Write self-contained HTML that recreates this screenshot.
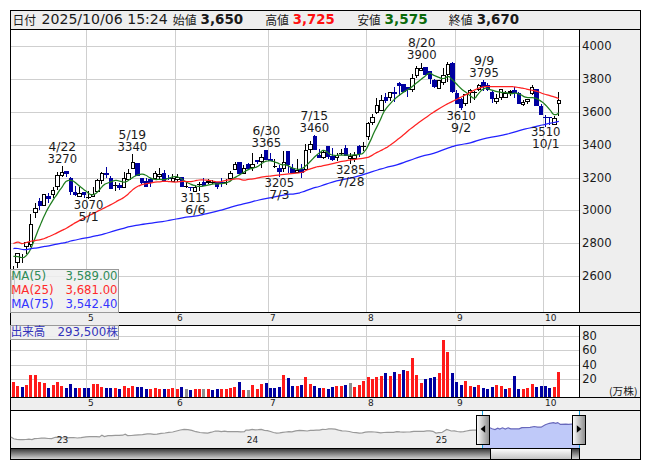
<!DOCTYPE html>
<html lang="ja"><head><meta charset="utf-8"><title>chart</title>
<style>
html,body{margin:0;padding:0;background:#fff;}
svg{display:block;}
text{font-family:"DejaVu Sans","Liberation Sans","Noto Sans CJK JP",sans-serif;fill:#1a1a1a;}
.j{font-family:"Noto Sans CJK JP","DejaVu Sans",sans-serif;}
.b{font-weight:bold;}
.g{stroke:#cfcfcf;stroke-width:1;shape-rendering:crispEdges;}
.k{stroke:#000;stroke-width:1;shape-rendering:crispEdges;}
</style></head><body>
<svg width="653" height="470" viewBox="0 0 653 470">
<rect x="0" y="0" width="653" height="470" fill="#fff"/>
<rect x="10" y="10" width="631" height="450" fill="#eee"/>
<rect x="11" y="30" width="568" height="282" fill="#fff"/>
<rect x="11" y="326" width="568" height="71" fill="#fff"/>
<rect x="11" y="411" width="568" height="37" fill="#fff"/>
<line class="g" x1="11" x2="579" y1="46.5" y2="46.5"/>
<line class="g" x1="11" x2="579" y1="79.5" y2="79.5"/>
<line class="g" x1="11" x2="579" y1="112.5" y2="112.5"/>
<line class="g" x1="11" x2="579" y1="145.5" y2="145.5"/>
<line class="g" x1="11" x2="579" y1="178.5" y2="178.5"/>
<line class="g" x1="11" x2="579" y1="210.5" y2="210.5"/>
<line class="g" x1="11" x2="579" y1="243.5" y2="243.5"/>
<line class="g" x1="11" x2="579" y1="276.5" y2="276.5"/>
<line class="g" x1="86.5" x2="86.5" y1="30" y2="312"/>
<line class="g" x1="86.5" x2="86.5" y1="326" y2="397"/>
<line class="g" x1="175.5" x2="175.5" y1="30" y2="312"/>
<line class="g" x1="175.5" x2="175.5" y1="326" y2="397"/>
<line class="g" x1="268.5" x2="268.5" y1="30" y2="312"/>
<line class="g" x1="268.5" x2="268.5" y1="326" y2="397"/>
<line class="g" x1="366.5" x2="366.5" y1="30" y2="312"/>
<line class="g" x1="366.5" x2="366.5" y1="326" y2="397"/>
<line class="g" x1="455.5" x2="455.5" y1="30" y2="312"/>
<line class="g" x1="455.5" x2="455.5" y1="326" y2="397"/>
<line class="g" x1="543.5" x2="543.5" y1="30" y2="312"/>
<line class="g" x1="543.5" x2="543.5" y1="326" y2="397"/>
<line class="g" x1="11" x2="579" y1="336.5" y2="336.5"/>
<line class="g" x1="11" x2="579" y1="350.5" y2="350.5"/>
<line class="g" x1="11" x2="579" y1="365.5" y2="365.5"/>
<line class="g" x1="11" x2="579" y1="379.5" y2="379.5"/>
<rect x="12" y="382" width="3" height="15" fill="#ff1a1a" shape-rendering="crispEdges"/>
<rect x="16" y="386" width="3" height="11" fill="#ff1a1a" shape-rendering="crispEdges"/>
<rect x="21" y="387" width="3" height="10" fill="#0000a0" shape-rendering="crispEdges"/>
<rect x="25" y="385" width="3" height="12" fill="#ff1a1a" shape-rendering="crispEdges"/>
<rect x="29" y="375" width="3" height="22" fill="#ff1a1a" shape-rendering="crispEdges"/>
<rect x="34" y="375" width="3" height="22" fill="#ff1a1a" shape-rendering="crispEdges"/>
<rect x="38" y="382" width="3" height="15" fill="#ff1a1a" shape-rendering="crispEdges"/>
<rect x="43" y="383" width="3" height="14" fill="#ff1a1a" shape-rendering="crispEdges"/>
<rect x="47" y="388" width="3" height="9" fill="#0000a0" shape-rendering="crispEdges"/>
<rect x="52" y="385" width="3" height="12" fill="#ff1a1a" shape-rendering="crispEdges"/>
<rect x="56" y="382" width="3" height="15" fill="#ff1a1a" shape-rendering="crispEdges"/>
<rect x="60" y="386" width="3" height="11" fill="#ff1a1a" shape-rendering="crispEdges"/>
<rect x="65" y="388" width="3" height="9" fill="#0000a0" shape-rendering="crispEdges"/>
<rect x="69" y="384" width="3" height="13" fill="#0000a0" shape-rendering="crispEdges"/>
<rect x="74" y="388" width="3" height="9" fill="#0000a0" shape-rendering="crispEdges"/>
<rect x="78" y="388" width="3" height="9" fill="#ff1a1a" shape-rendering="crispEdges"/>
<rect x="83" y="388" width="3" height="9" fill="#0000a0" shape-rendering="crispEdges"/>
<rect x="87" y="388" width="3" height="9" fill="#0000a0" shape-rendering="crispEdges"/>
<rect x="92" y="384" width="3" height="13" fill="#ff1a1a" shape-rendering="crispEdges"/>
<rect x="96" y="384" width="3" height="13" fill="#ff1a1a" shape-rendering="crispEdges"/>
<rect x="100" y="387" width="3" height="10" fill="#ff1a1a" shape-rendering="crispEdges"/>
<rect x="105" y="388" width="3" height="9" fill="#0000a0" shape-rendering="crispEdges"/>
<rect x="109" y="388" width="3" height="9" fill="#0000a0" shape-rendering="crispEdges"/>
<rect x="114" y="388" width="3" height="9" fill="#ff1a1a" shape-rendering="crispEdges"/>
<rect x="118" y="389" width="3" height="8" fill="#0000a0" shape-rendering="crispEdges"/>
<rect x="123" y="386" width="3" height="11" fill="#ff1a1a" shape-rendering="crispEdges"/>
<rect x="127" y="388" width="3" height="9" fill="#ff1a1a" shape-rendering="crispEdges"/>
<rect x="131" y="386" width="3" height="11" fill="#ff1a1a" shape-rendering="crispEdges"/>
<rect x="136" y="387" width="3" height="10" fill="#0000a0" shape-rendering="crispEdges"/>
<rect x="140" y="387" width="3" height="10" fill="#0000a0" shape-rendering="crispEdges"/>
<rect x="145" y="389" width="3" height="8" fill="#0000a0" shape-rendering="crispEdges"/>
<rect x="149" y="389" width="3" height="8" fill="#ff1a1a" shape-rendering="crispEdges"/>
<rect x="154" y="388" width="3" height="9" fill="#ff1a1a" shape-rendering="crispEdges"/>
<rect x="158" y="389" width="3" height="8" fill="#ff1a1a" shape-rendering="crispEdges"/>
<rect x="163" y="389" width="3" height="8" fill="#0000a0" shape-rendering="crispEdges"/>
<rect x="167" y="389" width="3" height="8" fill="#ff1a1a" shape-rendering="crispEdges"/>
<rect x="171" y="388" width="3" height="9" fill="#ff1a1a" shape-rendering="crispEdges"/>
<rect x="176" y="389" width="3" height="8" fill="#ff1a1a" shape-rendering="crispEdges"/>
<rect x="180" y="387" width="3" height="10" fill="#0000a0" shape-rendering="crispEdges"/>
<rect x="185" y="389" width="3" height="8" fill="#909090" shape-rendering="crispEdges"/>
<rect x="189" y="390" width="3" height="7" fill="#0000a0" shape-rendering="crispEdges"/>
<rect x="194" y="389" width="3" height="8" fill="#ff1a1a" shape-rendering="crispEdges"/>
<rect x="198" y="389" width="3" height="8" fill="#ff1a1a" shape-rendering="crispEdges"/>
<rect x="202" y="389" width="3" height="8" fill="#909090" shape-rendering="crispEdges"/>
<rect x="207" y="389" width="3" height="8" fill="#ff1a1a" shape-rendering="crispEdges"/>
<rect x="211" y="390" width="3" height="7" fill="#0000a0" shape-rendering="crispEdges"/>
<rect x="216" y="389" width="3" height="8" fill="#0000a0" shape-rendering="crispEdges"/>
<rect x="220" y="389" width="3" height="8" fill="#ff1a1a" shape-rendering="crispEdges"/>
<rect x="225" y="389" width="3" height="8" fill="#ff1a1a" shape-rendering="crispEdges"/>
<rect x="229" y="388" width="3" height="9" fill="#ff1a1a" shape-rendering="crispEdges"/>
<rect x="233" y="387" width="3" height="10" fill="#ff1a1a" shape-rendering="crispEdges"/>
<rect x="238" y="382" width="3" height="15" fill="#0000a0" shape-rendering="crispEdges"/>
<rect x="242" y="390" width="3" height="7" fill="#ff1a1a" shape-rendering="crispEdges"/>
<rect x="247" y="390" width="3" height="7" fill="#909090" shape-rendering="crispEdges"/>
<rect x="251" y="385" width="3" height="12" fill="#ff1a1a" shape-rendering="crispEdges"/>
<rect x="256" y="389" width="3" height="8" fill="#ff1a1a" shape-rendering="crispEdges"/>
<rect x="260" y="384" width="3" height="13" fill="#ff1a1a" shape-rendering="crispEdges"/>
<rect x="265" y="383" width="3" height="14" fill="#0000a0" shape-rendering="crispEdges"/>
<rect x="269" y="388" width="3" height="9" fill="#0000a0" shape-rendering="crispEdges"/>
<rect x="273" y="388" width="3" height="9" fill="#0000a0" shape-rendering="crispEdges"/>
<rect x="278" y="387" width="3" height="10" fill="#0000a0" shape-rendering="crispEdges"/>
<rect x="282" y="375" width="3" height="22" fill="#ff1a1a" shape-rendering="crispEdges"/>
<rect x="287" y="378" width="3" height="19" fill="#0000a0" shape-rendering="crispEdges"/>
<rect x="291" y="386" width="3" height="11" fill="#0000a0" shape-rendering="crispEdges"/>
<rect x="296" y="386" width="3" height="11" fill="#ff1a1a" shape-rendering="crispEdges"/>
<rect x="300" y="385" width="3" height="12" fill="#0000a0" shape-rendering="crispEdges"/>
<rect x="304" y="377" width="3" height="20" fill="#ff1a1a" shape-rendering="crispEdges"/>
<rect x="309" y="384" width="3" height="13" fill="#ff1a1a" shape-rendering="crispEdges"/>
<rect x="313" y="386" width="3" height="11" fill="#0000a0" shape-rendering="crispEdges"/>
<rect x="318" y="388" width="3" height="9" fill="#0000a0" shape-rendering="crispEdges"/>
<rect x="322" y="388" width="3" height="9" fill="#ff1a1a" shape-rendering="crispEdges"/>
<rect x="327" y="389" width="3" height="8" fill="#0000a0" shape-rendering="crispEdges"/>
<rect x="331" y="387" width="3" height="10" fill="#0000a0" shape-rendering="crispEdges"/>
<rect x="335" y="386" width="3" height="11" fill="#ff1a1a" shape-rendering="crispEdges"/>
<rect x="340" y="386" width="3" height="11" fill="#ff1a1a" shape-rendering="crispEdges"/>
<rect x="344" y="385" width="3" height="12" fill="#0000a0" shape-rendering="crispEdges"/>
<rect x="349" y="383" width="3" height="14" fill="#909090" shape-rendering="crispEdges"/>
<rect x="353" y="387" width="3" height="10" fill="#ff1a1a" shape-rendering="crispEdges"/>
<rect x="358" y="385" width="3" height="12" fill="#ff1a1a" shape-rendering="crispEdges"/>
<rect x="362" y="381" width="3" height="16" fill="#ff1a1a" shape-rendering="crispEdges"/>
<rect x="367" y="377" width="3" height="20" fill="#ff1a1a" shape-rendering="crispEdges"/>
<rect x="371" y="379" width="3" height="18" fill="#ff1a1a" shape-rendering="crispEdges"/>
<rect x="375" y="377" width="3" height="20" fill="#ff1a1a" shape-rendering="crispEdges"/>
<rect x="380" y="376" width="3" height="21" fill="#ff1a1a" shape-rendering="crispEdges"/>
<rect x="384" y="373" width="3" height="24" fill="#0000a0" shape-rendering="crispEdges"/>
<rect x="389" y="376" width="3" height="21" fill="#ff1a1a" shape-rendering="crispEdges"/>
<rect x="393" y="372" width="3" height="25" fill="#0000a0" shape-rendering="crispEdges"/>
<rect x="398" y="374" width="3" height="23" fill="#ff1a1a" shape-rendering="crispEdges"/>
<rect x="402" y="370" width="3" height="27" fill="#0000a0" shape-rendering="crispEdges"/>
<rect x="406" y="371" width="3" height="26" fill="#ff1a1a" shape-rendering="crispEdges"/>
<rect x="411" y="358" width="3" height="39" fill="#ff1a1a" shape-rendering="crispEdges"/>
<rect x="415" y="375" width="3" height="22" fill="#ff1a1a" shape-rendering="crispEdges"/>
<rect x="420" y="383" width="3" height="14" fill="#ff1a1a" shape-rendering="crispEdges"/>
<rect x="424" y="379" width="3" height="18" fill="#0000a0" shape-rendering="crispEdges"/>
<rect x="429" y="378" width="3" height="19" fill="#0000a0" shape-rendering="crispEdges"/>
<rect x="433" y="377" width="3" height="20" fill="#0000a0" shape-rendering="crispEdges"/>
<rect x="438" y="373" width="3" height="24" fill="#ff1a1a" shape-rendering="crispEdges"/>
<rect x="442" y="340" width="3" height="57" fill="#ff1a1a" shape-rendering="crispEdges"/>
<rect x="446" y="352" width="3" height="45" fill="#ff1a1a" shape-rendering="crispEdges"/>
<rect x="451" y="373" width="3" height="24" fill="#0000a0" shape-rendering="crispEdges"/>
<rect x="455" y="382" width="3" height="15" fill="#0000a0" shape-rendering="crispEdges"/>
<rect x="460" y="385" width="3" height="12" fill="#0000a0" shape-rendering="crispEdges"/>
<rect x="464" y="381" width="3" height="16" fill="#ff1a1a" shape-rendering="crispEdges"/>
<rect x="469" y="386" width="3" height="11" fill="#ff1a1a" shape-rendering="crispEdges"/>
<rect x="473" y="387" width="3" height="10" fill="#0000a0" shape-rendering="crispEdges"/>
<rect x="477" y="385" width="3" height="12" fill="#ff1a1a" shape-rendering="crispEdges"/>
<rect x="482" y="388" width="3" height="9" fill="#0000a0" shape-rendering="crispEdges"/>
<rect x="486" y="389" width="3" height="8" fill="#0000a0" shape-rendering="crispEdges"/>
<rect x="491" y="387" width="3" height="10" fill="#0000a0" shape-rendering="crispEdges"/>
<rect x="495" y="385" width="3" height="12" fill="#ff1a1a" shape-rendering="crispEdges"/>
<rect x="500" y="386" width="3" height="11" fill="#ff1a1a" shape-rendering="crispEdges"/>
<rect x="504" y="389" width="3" height="8" fill="#0000a0" shape-rendering="crispEdges"/>
<rect x="508" y="388" width="3" height="9" fill="#ff1a1a" shape-rendering="crispEdges"/>
<rect x="513" y="376" width="3" height="21" fill="#0000a0" shape-rendering="crispEdges"/>
<rect x="517" y="389" width="3" height="8" fill="#0000a0" shape-rendering="crispEdges"/>
<rect x="522" y="389" width="3" height="8" fill="#ff1a1a" shape-rendering="crispEdges"/>
<rect x="526" y="388" width="3" height="9" fill="#ff1a1a" shape-rendering="crispEdges"/>
<rect x="531" y="384" width="3" height="13" fill="#ff1a1a" shape-rendering="crispEdges"/>
<rect x="535" y="387" width="3" height="10" fill="#0000a0" shape-rendering="crispEdges"/>
<rect x="540" y="386" width="3" height="11" fill="#0000a0" shape-rendering="crispEdges"/>
<rect x="544" y="386" width="3" height="11" fill="#0000a0" shape-rendering="crispEdges"/>
<rect x="548" y="388" width="3" height="9" fill="#0000a0" shape-rendering="crispEdges"/>
<rect x="553" y="387" width="3" height="10" fill="#ff1a1a" shape-rendering="crispEdges"/>
<rect x="557" y="372" width="3" height="25" fill="#ff1a1a" shape-rendering="crispEdges"/>
<rect x="13" y="266" width="1" height="35" fill="#000" shape-rendering="crispEdges"/>
<rect x="11" y="276" width="4" height="18" fill="#000" shape-rendering="crispEdges"/>
<rect x="12" y="277" width="2" height="16" fill="#fff" shape-rendering="crispEdges"/>
<rect x="17" y="253" width="1" height="15" fill="#000" shape-rendering="crispEdges"/>
<rect x="15" y="253" width="5" height="10" fill="#000" shape-rendering="crispEdges"/>
<rect x="16" y="254" width="3" height="8" fill="#fff" shape-rendering="crispEdges"/>
<rect x="22" y="254" width="1" height="9" fill="#000" shape-rendering="crispEdges"/>
<rect x="20" y="257" width="4" height="1" fill="#000" shape-rendering="crispEdges"/>
<rect x="26" y="242" width="1" height="12" fill="#000" shape-rendering="crispEdges"/>
<rect x="24" y="242" width="5" height="5" fill="#000" shape-rendering="crispEdges"/>
<rect x="25" y="243" width="3" height="3" fill="#fff" shape-rendering="crispEdges"/>
<rect x="30" y="214" width="1" height="33" fill="#000" shape-rendering="crispEdges"/>
<rect x="29" y="224" width="4" height="21" fill="#000" shape-rendering="crispEdges"/>
<rect x="30" y="225" width="2" height="19" fill="#fff" shape-rendering="crispEdges"/>
<rect x="35" y="203" width="1" height="15" fill="#000" shape-rendering="crispEdges"/>
<rect x="33" y="208" width="5" height="5" fill="#000" shape-rendering="crispEdges"/>
<rect x="34" y="209" width="3" height="3" fill="#fff" shape-rendering="crispEdges"/>
<rect x="39" y="198" width="1" height="12" fill="#0000a0" shape-rendering="crispEdges"/>
<rect x="38" y="201" width="4" height="5" fill="#0000a0" shape-rendering="crispEdges"/>
<rect x="44" y="194" width="1" height="12" fill="#000" shape-rendering="crispEdges"/>
<rect x="42" y="194" width="4" height="12" fill="#000" shape-rendering="crispEdges"/>
<rect x="43" y="195" width="2" height="10" fill="#fff" shape-rendering="crispEdges"/>
<rect x="48" y="193" width="1" height="10" fill="#0000a0" shape-rendering="crispEdges"/>
<rect x="46" y="196" width="5" height="3" fill="#0000a0" shape-rendering="crispEdges"/>
<rect x="53" y="187" width="1" height="11" fill="#000" shape-rendering="crispEdges"/>
<rect x="51" y="190" width="4" height="5" fill="#000" shape-rendering="crispEdges"/>
<rect x="52" y="191" width="2" height="3" fill="#fff" shape-rendering="crispEdges"/>
<rect x="57" y="172" width="1" height="18" fill="#000" shape-rendering="crispEdges"/>
<rect x="55" y="175" width="5" height="12" fill="#000" shape-rendering="crispEdges"/>
<rect x="56" y="176" width="3" height="10" fill="#fff" shape-rendering="crispEdges"/>
<rect x="62" y="166" width="1" height="11" fill="#000" shape-rendering="crispEdges"/>
<rect x="60" y="172" width="4" height="4" fill="#000" shape-rendering="crispEdges"/>
<rect x="61" y="173" width="2" height="2" fill="#fff" shape-rendering="crispEdges"/>
<rect x="66" y="171" width="1" height="6" fill="#0000a0" shape-rendering="crispEdges"/>
<rect x="64" y="171" width="5" height="3" fill="#0000a0" shape-rendering="crispEdges"/>
<rect x="70" y="177" width="1" height="18" fill="#0000a0" shape-rendering="crispEdges"/>
<rect x="69" y="178" width="4" height="14" fill="#0000a0" shape-rendering="crispEdges"/>
<rect x="75" y="186" width="1" height="10" fill="#0000a0" shape-rendering="crispEdges"/>
<rect x="73" y="192" width="4" height="3" fill="#0000a0" shape-rendering="crispEdges"/>
<rect x="79" y="187" width="1" height="10" fill="#000" shape-rendering="crispEdges"/>
<rect x="77" y="193" width="5" height="4" fill="#000" shape-rendering="crispEdges"/>
<rect x="78" y="194" width="3" height="2" fill="#fff" shape-rendering="crispEdges"/>
<rect x="84" y="192" width="1" height="6" fill="#0000a0" shape-rendering="crispEdges"/>
<rect x="82" y="192" width="4" height="3" fill="#0000a0" shape-rendering="crispEdges"/>
<rect x="88" y="191" width="1" height="8" fill="#000" shape-rendering="crispEdges"/>
<rect x="86" y="197" width="5" height="1" fill="#000" shape-rendering="crispEdges"/>
<rect x="93" y="187" width="1" height="10" fill="#000" shape-rendering="crispEdges"/>
<rect x="91" y="194" width="4" height="3" fill="#000" shape-rendering="crispEdges"/>
<rect x="92" y="195" width="2" height="1" fill="#fff" shape-rendering="crispEdges"/>
<rect x="97" y="179" width="1" height="13" fill="#000" shape-rendering="crispEdges"/>
<rect x="95" y="180" width="5" height="12" fill="#000" shape-rendering="crispEdges"/>
<rect x="96" y="181" width="3" height="10" fill="#fff" shape-rendering="crispEdges"/>
<rect x="101" y="172" width="1" height="12" fill="#000" shape-rendering="crispEdges"/>
<rect x="100" y="173" width="4" height="8" fill="#000" shape-rendering="crispEdges"/>
<rect x="101" y="174" width="2" height="6" fill="#fff" shape-rendering="crispEdges"/>
<rect x="106" y="167" width="1" height="11" fill="#0000a0" shape-rendering="crispEdges"/>
<rect x="104" y="173" width="5" height="2" fill="#0000a0" shape-rendering="crispEdges"/>
<rect x="110" y="176" width="1" height="13" fill="#0000a0" shape-rendering="crispEdges"/>
<rect x="109" y="178" width="4" height="11" fill="#0000a0" shape-rendering="crispEdges"/>
<rect x="115" y="182" width="1" height="9" fill="#000" shape-rendering="crispEdges"/>
<rect x="113" y="185" width="4" height="1" fill="#000" shape-rendering="crispEdges"/>
<rect x="119" y="183" width="1" height="7" fill="#0000a0" shape-rendering="crispEdges"/>
<rect x="117" y="185" width="5" height="3" fill="#0000a0" shape-rendering="crispEdges"/>
<rect x="124" y="172" width="1" height="16" fill="#000" shape-rendering="crispEdges"/>
<rect x="122" y="178" width="4" height="10" fill="#000" shape-rendering="crispEdges"/>
<rect x="123" y="179" width="2" height="8" fill="#fff" shape-rendering="crispEdges"/>
<rect x="128" y="169" width="1" height="11" fill="#000" shape-rendering="crispEdges"/>
<rect x="126" y="173" width="5" height="7" fill="#000" shape-rendering="crispEdges"/>
<rect x="127" y="174" width="3" height="5" fill="#fff" shape-rendering="crispEdges"/>
<rect x="132" y="154" width="1" height="15" fill="#000" shape-rendering="crispEdges"/>
<rect x="131" y="162" width="4" height="7" fill="#000" shape-rendering="crispEdges"/>
<rect x="132" y="163" width="2" height="5" fill="#fff" shape-rendering="crispEdges"/>
<rect x="137" y="163" width="1" height="13" fill="#0000a0" shape-rendering="crispEdges"/>
<rect x="135" y="163" width="5" height="13" fill="#0000a0" shape-rendering="crispEdges"/>
<rect x="141" y="178" width="1" height="6" fill="#0000a0" shape-rendering="crispEdges"/>
<rect x="140" y="178" width="4" height="5" fill="#0000a0" shape-rendering="crispEdges"/>
<rect x="146" y="178" width="1" height="9" fill="#0000a0" shape-rendering="crispEdges"/>
<rect x="144" y="181" width="4" height="6" fill="#0000a0" shape-rendering="crispEdges"/>
<rect x="150" y="178" width="1" height="9" fill="#0000a0" shape-rendering="crispEdges"/>
<rect x="148" y="179" width="5" height="4" fill="#0000a0" shape-rendering="crispEdges"/>
<rect x="155" y="171" width="1" height="8" fill="#000" shape-rendering="crispEdges"/>
<rect x="153" y="173" width="4" height="6" fill="#000" shape-rendering="crispEdges"/>
<rect x="154" y="174" width="2" height="4" fill="#fff" shape-rendering="crispEdges"/>
<rect x="159" y="168" width="1" height="11" fill="#000" shape-rendering="crispEdges"/>
<rect x="157" y="174" width="5" height="3" fill="#000" shape-rendering="crispEdges"/>
<rect x="158" y="175" width="3" height="1" fill="#fff" shape-rendering="crispEdges"/>
<rect x="164" y="170" width="1" height="11" fill="#0000a0" shape-rendering="crispEdges"/>
<rect x="162" y="173" width="4" height="8" fill="#0000a0" shape-rendering="crispEdges"/>
<rect x="168" y="175" width="1" height="5" fill="#0000a0" shape-rendering="crispEdges"/>
<rect x="166" y="178" width="5" height="1" fill="#0000a0" shape-rendering="crispEdges"/>
<rect x="172" y="174" width="1" height="8" fill="#000" shape-rendering="crispEdges"/>
<rect x="171" y="178" width="4" height="4" fill="#000" shape-rendering="crispEdges"/>
<rect x="172" y="179" width="2" height="2" fill="#fff" shape-rendering="crispEdges"/>
<rect x="177" y="174" width="1" height="8" fill="#000" shape-rendering="crispEdges"/>
<rect x="175" y="177" width="5" height="3" fill="#000" shape-rendering="crispEdges"/>
<rect x="176" y="178" width="3" height="1" fill="#fff" shape-rendering="crispEdges"/>
<rect x="181" y="177" width="1" height="10" fill="#0000a0" shape-rendering="crispEdges"/>
<rect x="180" y="177" width="4" height="10" fill="#0000a0" shape-rendering="crispEdges"/>
<rect x="186" y="182" width="1" height="6" fill="#000" shape-rendering="crispEdges"/>
<rect x="184" y="186" width="4" height="1" fill="#000" shape-rendering="crispEdges"/>
<rect x="190" y="187" width="1" height="4" fill="#0000a0" shape-rendering="crispEdges"/>
<rect x="188" y="187" width="5" height="1" fill="#0000a0" shape-rendering="crispEdges"/>
<rect x="195" y="185" width="1" height="7" fill="#000" shape-rendering="crispEdges"/>
<rect x="193" y="187" width="4" height="5" fill="#000" shape-rendering="crispEdges"/>
<rect x="194" y="188" width="2" height="3" fill="#fff" shape-rendering="crispEdges"/>
<rect x="199" y="182" width="1" height="9" fill="#000" shape-rendering="crispEdges"/>
<rect x="197" y="184" width="5" height="1" fill="#000" shape-rendering="crispEdges"/>
<rect x="203" y="178" width="1" height="8" fill="#0000a0" shape-rendering="crispEdges"/>
<rect x="202" y="182" width="4" height="4" fill="#0000a0" shape-rendering="crispEdges"/>
<rect x="208" y="179" width="1" height="5" fill="#000" shape-rendering="crispEdges"/>
<rect x="206" y="181" width="5" height="2" fill="#000" shape-rendering="crispEdges"/>
<rect x="212" y="180" width="1" height="4" fill="#000" shape-rendering="crispEdges"/>
<rect x="211" y="182" width="4" height="1" fill="#000" shape-rendering="crispEdges"/>
<rect x="217" y="182" width="1" height="7" fill="#0000a0" shape-rendering="crispEdges"/>
<rect x="215" y="182" width="4" height="5" fill="#0000a0" shape-rendering="crispEdges"/>
<rect x="221" y="178" width="1" height="9" fill="#0000a0" shape-rendering="crispEdges"/>
<rect x="219" y="182" width="5" height="2" fill="#0000a0" shape-rendering="crispEdges"/>
<rect x="226" y="179" width="1" height="6" fill="#000" shape-rendering="crispEdges"/>
<rect x="224" y="182" width="4" height="1" fill="#000" shape-rendering="crispEdges"/>
<rect x="230" y="171" width="1" height="8" fill="#000" shape-rendering="crispEdges"/>
<rect x="228" y="173" width="5" height="6" fill="#000" shape-rendering="crispEdges"/>
<rect x="229" y="174" width="3" height="4" fill="#fff" shape-rendering="crispEdges"/>
<rect x="235" y="162" width="1" height="8" fill="#000" shape-rendering="crispEdges"/>
<rect x="233" y="164" width="4" height="6" fill="#000" shape-rendering="crispEdges"/>
<rect x="234" y="165" width="2" height="4" fill="#fff" shape-rendering="crispEdges"/>
<rect x="239" y="162" width="1" height="12" fill="#0000a0" shape-rendering="crispEdges"/>
<rect x="237" y="162" width="5" height="12" fill="#0000a0" shape-rendering="crispEdges"/>
<rect x="243" y="165" width="1" height="9" fill="#000" shape-rendering="crispEdges"/>
<rect x="242" y="168" width="4" height="6" fill="#000" shape-rendering="crispEdges"/>
<rect x="243" y="169" width="2" height="4" fill="#fff" shape-rendering="crispEdges"/>
<rect x="248" y="163" width="1" height="6" fill="#0000a0" shape-rendering="crispEdges"/>
<rect x="246" y="164" width="4" height="5" fill="#0000a0" shape-rendering="crispEdges"/>
<rect x="252" y="153" width="1" height="18" fill="#000" shape-rendering="crispEdges"/>
<rect x="250" y="164" width="5" height="4" fill="#000" shape-rendering="crispEdges"/>
<rect x="251" y="165" width="3" height="2" fill="#fff" shape-rendering="crispEdges"/>
<rect x="257" y="160" width="1" height="4" fill="#0000a0" shape-rendering="crispEdges"/>
<rect x="255" y="160" width="4" height="2" fill="#0000a0" shape-rendering="crispEdges"/>
<rect x="261" y="154" width="1" height="14" fill="#000" shape-rendering="crispEdges"/>
<rect x="259" y="157" width="5" height="5" fill="#000" shape-rendering="crispEdges"/>
<rect x="260" y="158" width="3" height="3" fill="#fff" shape-rendering="crispEdges"/>
<rect x="266" y="150" width="1" height="10" fill="#0000a0" shape-rendering="crispEdges"/>
<rect x="264" y="150" width="4" height="10" fill="#0000a0" shape-rendering="crispEdges"/>
<rect x="270" y="153" width="1" height="8" fill="#0000a0" shape-rendering="crispEdges"/>
<rect x="268" y="159" width="5" height="2" fill="#0000a0" shape-rendering="crispEdges"/>
<rect x="274" y="159" width="1" height="9" fill="#000" shape-rendering="crispEdges"/>
<rect x="273" y="166" width="4" height="1" fill="#000" shape-rendering="crispEdges"/>
<rect x="279" y="165" width="1" height="12" fill="#0000a0" shape-rendering="crispEdges"/>
<rect x="277" y="168" width="5" height="4" fill="#0000a0" shape-rendering="crispEdges"/>
<rect x="283" y="151" width="1" height="21" fill="#000" shape-rendering="crispEdges"/>
<rect x="282" y="162" width="4" height="7" fill="#000" shape-rendering="crispEdges"/>
<rect x="283" y="163" width="2" height="5" fill="#fff" shape-rendering="crispEdges"/>
<rect x="288" y="151" width="1" height="22" fill="#0000a0" shape-rendering="crispEdges"/>
<rect x="286" y="151" width="4" height="14" fill="#0000a0" shape-rendering="crispEdges"/>
<rect x="292" y="164" width="1" height="10" fill="#0000a0" shape-rendering="crispEdges"/>
<rect x="290" y="168" width="5" height="5" fill="#0000a0" shape-rendering="crispEdges"/>
<rect x="297" y="159" width="1" height="14" fill="#000" shape-rendering="crispEdges"/>
<rect x="295" y="170" width="4" height="3" fill="#000" shape-rendering="crispEdges"/>
<rect x="296" y="171" width="2" height="1" fill="#fff" shape-rendering="crispEdges"/>
<rect x="301" y="164" width="1" height="14" fill="#0000a0" shape-rendering="crispEdges"/>
<rect x="299" y="169" width="5" height="4" fill="#0000a0" shape-rendering="crispEdges"/>
<rect x="305" y="144" width="1" height="26" fill="#000" shape-rendering="crispEdges"/>
<rect x="304" y="150" width="4" height="20" fill="#000" shape-rendering="crispEdges"/>
<rect x="305" y="151" width="2" height="18" fill="#fff" shape-rendering="crispEdges"/>
<rect x="310" y="141" width="1" height="12" fill="#000" shape-rendering="crispEdges"/>
<rect x="308" y="144" width="5" height="6" fill="#000" shape-rendering="crispEdges"/>
<rect x="309" y="145" width="3" height="4" fill="#fff" shape-rendering="crispEdges"/>
<rect x="314" y="135" width="1" height="15" fill="#0000a0" shape-rendering="crispEdges"/>
<rect x="313" y="136" width="4" height="14" fill="#0000a0" shape-rendering="crispEdges"/>
<rect x="319" y="149" width="1" height="9" fill="#0000a0" shape-rendering="crispEdges"/>
<rect x="317" y="155" width="4" height="3" fill="#0000a0" shape-rendering="crispEdges"/>
<rect x="323" y="150" width="1" height="9" fill="#000" shape-rendering="crispEdges"/>
<rect x="321" y="152" width="5" height="6" fill="#000" shape-rendering="crispEdges"/>
<rect x="322" y="153" width="3" height="4" fill="#fff" shape-rendering="crispEdges"/>
<rect x="328" y="146" width="1" height="13" fill="#0000a0" shape-rendering="crispEdges"/>
<rect x="326" y="146" width="4" height="11" fill="#0000a0" shape-rendering="crispEdges"/>
<rect x="332" y="148" width="1" height="13" fill="#0000a0" shape-rendering="crispEdges"/>
<rect x="330" y="156" width="5" height="4" fill="#0000a0" shape-rendering="crispEdges"/>
<rect x="337" y="153" width="1" height="8" fill="#000" shape-rendering="crispEdges"/>
<rect x="335" y="155" width="4" height="3" fill="#000" shape-rendering="crispEdges"/>
<rect x="336" y="156" width="2" height="1" fill="#fff" shape-rendering="crispEdges"/>
<rect x="341" y="149" width="1" height="6" fill="#000" shape-rendering="crispEdges"/>
<rect x="339" y="153" width="5" height="1" fill="#000" shape-rendering="crispEdges"/>
<rect x="345" y="145" width="1" height="11" fill="#0000a0" shape-rendering="crispEdges"/>
<rect x="344" y="148" width="4" height="8" fill="#0000a0" shape-rendering="crispEdges"/>
<rect x="350" y="153" width="1" height="11" fill="#000" shape-rendering="crispEdges"/>
<rect x="348" y="156" width="4" height="3" fill="#000" shape-rendering="crispEdges"/>
<rect x="349" y="157" width="2" height="1" fill="#fff" shape-rendering="crispEdges"/>
<rect x="354" y="152" width="1" height="10" fill="#000" shape-rendering="crispEdges"/>
<rect x="352" y="155" width="5" height="4" fill="#000" shape-rendering="crispEdges"/>
<rect x="353" y="156" width="3" height="2" fill="#fff" shape-rendering="crispEdges"/>
<rect x="359" y="145" width="1" height="12" fill="#0000a0" shape-rendering="crispEdges"/>
<rect x="357" y="146" width="4" height="8" fill="#0000a0" shape-rendering="crispEdges"/>
<rect x="363" y="142" width="1" height="9" fill="#000" shape-rendering="crispEdges"/>
<rect x="361" y="146" width="5" height="1" fill="#000" shape-rendering="crispEdges"/>
<rect x="368" y="122" width="1" height="18" fill="#000" shape-rendering="crispEdges"/>
<rect x="366" y="123" width="4" height="14" fill="#000" shape-rendering="crispEdges"/>
<rect x="367" y="124" width="2" height="12" fill="#fff" shape-rendering="crispEdges"/>
<rect x="372" y="114" width="1" height="11" fill="#000" shape-rendering="crispEdges"/>
<rect x="370" y="117" width="5" height="6" fill="#000" shape-rendering="crispEdges"/>
<rect x="371" y="118" width="3" height="4" fill="#fff" shape-rendering="crispEdges"/>
<rect x="376" y="98" width="1" height="16" fill="#000" shape-rendering="crispEdges"/>
<rect x="375" y="105" width="4" height="8" fill="#000" shape-rendering="crispEdges"/>
<rect x="376" y="106" width="2" height="6" fill="#fff" shape-rendering="crispEdges"/>
<rect x="381" y="95" width="1" height="16" fill="#000" shape-rendering="crispEdges"/>
<rect x="379" y="100" width="5" height="11" fill="#000" shape-rendering="crispEdges"/>
<rect x="380" y="101" width="3" height="9" fill="#fff" shape-rendering="crispEdges"/>
<rect x="385" y="93" width="1" height="10" fill="#0000a0" shape-rendering="crispEdges"/>
<rect x="384" y="97" width="4" height="4" fill="#0000a0" shape-rendering="crispEdges"/>
<rect x="390" y="92" width="1" height="9" fill="#000" shape-rendering="crispEdges"/>
<rect x="388" y="92" width="4" height="6" fill="#000" shape-rendering="crispEdges"/>
<rect x="389" y="93" width="2" height="4" fill="#fff" shape-rendering="crispEdges"/>
<rect x="394" y="87" width="1" height="15" fill="#0000a0" shape-rendering="crispEdges"/>
<rect x="392" y="92" width="5" height="2" fill="#0000a0" shape-rendering="crispEdges"/>
<rect x="399" y="82" width="1" height="14" fill="#0000a0" shape-rendering="crispEdges"/>
<rect x="397" y="83" width="4" height="3" fill="#0000a0" shape-rendering="crispEdges"/>
<rect x="403" y="84" width="1" height="8" fill="#0000a0" shape-rendering="crispEdges"/>
<rect x="401" y="84" width="5" height="8" fill="#0000a0" shape-rendering="crispEdges"/>
<rect x="407" y="87" width="1" height="10" fill="#0000a0" shape-rendering="crispEdges"/>
<rect x="406" y="87" width="4" height="3" fill="#0000a0" shape-rendering="crispEdges"/>
<rect x="412" y="74" width="1" height="18" fill="#000" shape-rendering="crispEdges"/>
<rect x="410" y="78" width="5" height="12" fill="#000" shape-rendering="crispEdges"/>
<rect x="411" y="79" width="3" height="10" fill="#fff" shape-rendering="crispEdges"/>
<rect x="416" y="66" width="1" height="12" fill="#000" shape-rendering="crispEdges"/>
<rect x="415" y="68" width="4" height="8" fill="#000" shape-rendering="crispEdges"/>
<rect x="416" y="69" width="2" height="6" fill="#fff" shape-rendering="crispEdges"/>
<rect x="421" y="63" width="1" height="8" fill="#000" shape-rendering="crispEdges"/>
<rect x="419" y="68" width="4" height="3" fill="#000" shape-rendering="crispEdges"/>
<rect x="420" y="69" width="2" height="1" fill="#fff" shape-rendering="crispEdges"/>
<rect x="425" y="67" width="1" height="8" fill="#0000a0" shape-rendering="crispEdges"/>
<rect x="423" y="67" width="5" height="8" fill="#0000a0" shape-rendering="crispEdges"/>
<rect x="430" y="71" width="1" height="13" fill="#0000a0" shape-rendering="crispEdges"/>
<rect x="428" y="71" width="4" height="8" fill="#0000a0" shape-rendering="crispEdges"/>
<rect x="434" y="79" width="1" height="9" fill="#0000a0" shape-rendering="crispEdges"/>
<rect x="432" y="80" width="5" height="7" fill="#0000a0" shape-rendering="crispEdges"/>
<rect x="439" y="80" width="1" height="9" fill="#000" shape-rendering="crispEdges"/>
<rect x="437" y="80" width="4" height="9" fill="#000" shape-rendering="crispEdges"/>
<rect x="438" y="81" width="2" height="7" fill="#fff" shape-rendering="crispEdges"/>
<rect x="443" y="68" width="1" height="17" fill="#000" shape-rendering="crispEdges"/>
<rect x="441" y="75" width="5" height="8" fill="#000" shape-rendering="crispEdges"/>
<rect x="442" y="76" width="3" height="6" fill="#fff" shape-rendering="crispEdges"/>
<rect x="447" y="62" width="1" height="20" fill="#000" shape-rendering="crispEdges"/>
<rect x="446" y="64" width="4" height="11" fill="#000" shape-rendering="crispEdges"/>
<rect x="447" y="65" width="2" height="9" fill="#fff" shape-rendering="crispEdges"/>
<rect x="452" y="62" width="1" height="31" fill="#0000a0" shape-rendering="crispEdges"/>
<rect x="450" y="63" width="5" height="29" fill="#0000a0" shape-rendering="crispEdges"/>
<rect x="456" y="90" width="1" height="14" fill="#0000a0" shape-rendering="crispEdges"/>
<rect x="455" y="93" width="4" height="11" fill="#0000a0" shape-rendering="crispEdges"/>
<rect x="461" y="98" width="1" height="12" fill="#0000a0" shape-rendering="crispEdges"/>
<rect x="459" y="99" width="4" height="9" fill="#0000a0" shape-rendering="crispEdges"/>
<rect x="465" y="94" width="1" height="12" fill="#000" shape-rendering="crispEdges"/>
<rect x="463" y="94" width="5" height="10" fill="#000" shape-rendering="crispEdges"/>
<rect x="464" y="95" width="3" height="8" fill="#fff" shape-rendering="crispEdges"/>
<rect x="470" y="89" width="1" height="14" fill="#000" shape-rendering="crispEdges"/>
<rect x="468" y="90" width="4" height="3" fill="#000" shape-rendering="crispEdges"/>
<rect x="469" y="91" width="2" height="1" fill="#fff" shape-rendering="crispEdges"/>
<rect x="474" y="91" width="1" height="9" fill="#000" shape-rendering="crispEdges"/>
<rect x="472" y="92" width="5" height="1" fill="#000" shape-rendering="crispEdges"/>
<rect x="478" y="84" width="1" height="7" fill="#000" shape-rendering="crispEdges"/>
<rect x="477" y="85" width="4" height="5" fill="#000" shape-rendering="crispEdges"/>
<rect x="478" y="86" width="2" height="3" fill="#fff" shape-rendering="crispEdges"/>
<rect x="483" y="80" width="1" height="11" fill="#0000a0" shape-rendering="crispEdges"/>
<rect x="481" y="82" width="5" height="5" fill="#0000a0" shape-rendering="crispEdges"/>
<rect x="487" y="83" width="1" height="8" fill="#0000a0" shape-rendering="crispEdges"/>
<rect x="486" y="85" width="4" height="5" fill="#0000a0" shape-rendering="crispEdges"/>
<rect x="492" y="91" width="1" height="12" fill="#0000a0" shape-rendering="crispEdges"/>
<rect x="490" y="92" width="4" height="7" fill="#0000a0" shape-rendering="crispEdges"/>
<rect x="496" y="94" width="1" height="10" fill="#000" shape-rendering="crispEdges"/>
<rect x="494" y="98" width="5" height="4" fill="#000" shape-rendering="crispEdges"/>
<rect x="495" y="99" width="3" height="2" fill="#fff" shape-rendering="crispEdges"/>
<rect x="501" y="89" width="1" height="11" fill="#000" shape-rendering="crispEdges"/>
<rect x="499" y="89" width="4" height="9" fill="#000" shape-rendering="crispEdges"/>
<rect x="500" y="90" width="2" height="7" fill="#fff" shape-rendering="crispEdges"/>
<rect x="505" y="91" width="1" height="7" fill="#000" shape-rendering="crispEdges"/>
<rect x="503" y="93" width="5" height="5" fill="#000" shape-rendering="crispEdges"/>
<rect x="504" y="94" width="3" height="3" fill="#fff" shape-rendering="crispEdges"/>
<rect x="510" y="90" width="1" height="6" fill="#000" shape-rendering="crispEdges"/>
<rect x="508" y="91" width="4" height="2" fill="#000" shape-rendering="crispEdges"/>
<rect x="514" y="87" width="1" height="11" fill="#0000a0" shape-rendering="crispEdges"/>
<rect x="512" y="90" width="5" height="3" fill="#0000a0" shape-rendering="crispEdges"/>
<rect x="518" y="92" width="1" height="12" fill="#0000a0" shape-rendering="crispEdges"/>
<rect x="517" y="93" width="4" height="11" fill="#0000a0" shape-rendering="crispEdges"/>
<rect x="523" y="100" width="1" height="6" fill="#000" shape-rendering="crispEdges"/>
<rect x="521" y="102" width="4" height="3" fill="#000" shape-rendering="crispEdges"/>
<rect x="522" y="103" width="2" height="1" fill="#fff" shape-rendering="crispEdges"/>
<rect x="527" y="99" width="1" height="5" fill="#000" shape-rendering="crispEdges"/>
<rect x="525" y="99" width="5" height="3" fill="#000" shape-rendering="crispEdges"/>
<rect x="526" y="100" width="3" height="1" fill="#fff" shape-rendering="crispEdges"/>
<rect x="532" y="85" width="1" height="10" fill="#000" shape-rendering="crispEdges"/>
<rect x="530" y="87" width="4" height="7" fill="#000" shape-rendering="crispEdges"/>
<rect x="531" y="88" width="2" height="5" fill="#fff" shape-rendering="crispEdges"/>
<rect x="536" y="89" width="1" height="17" fill="#0000a0" shape-rendering="crispEdges"/>
<rect x="534" y="89" width="5" height="17" fill="#0000a0" shape-rendering="crispEdges"/>
<rect x="541" y="104" width="1" height="11" fill="#0000a0" shape-rendering="crispEdges"/>
<rect x="539" y="106" width="4" height="9" fill="#0000a0" shape-rendering="crispEdges"/>
<rect x="545" y="115" width="1" height="12" fill="#0000a0" shape-rendering="crispEdges"/>
<rect x="543" y="117" width="5" height="1" fill="#0000a0" shape-rendering="crispEdges"/>
<rect x="549" y="117" width="1" height="8" fill="#0000a0" shape-rendering="crispEdges"/>
<rect x="548" y="117" width="4" height="1" fill="#0000a0" shape-rendering="crispEdges"/>
<rect x="554" y="116" width="1" height="9" fill="#000" shape-rendering="crispEdges"/>
<rect x="552" y="118" width="5" height="7" fill="#000" shape-rendering="crispEdges"/>
<rect x="553" y="119" width="3" height="5" fill="#fff" shape-rendering="crispEdges"/>
<rect x="558" y="92" width="1" height="24" fill="#000" shape-rendering="crispEdges"/>
<rect x="557" y="100" width="4" height="4" fill="#000" shape-rendering="crispEdges"/>
<rect x="558" y="101" width="2" height="2" fill="#fff" shape-rendering="crispEdges"/>
<path d="M13.4,256.4 C14.9,256.5 14.7,256.2 17.8,256.6 C20.9,257.0 20.2,257.7 22.7,257.6 C25.2,257.5 23.6,257.6 25.2,256.4 C26.8,255.2 26.0,256.0 27.6,253.9 C29.2,251.8 28.5,253.1 30.1,250.0 C31.7,246.9 30.9,248.5 32.5,244.6 C34.1,240.7 33.4,242.5 35.0,238.3 C36.6,234.1 35.8,236.0 37.4,231.9 C39.0,227.8 38.3,229.9 39.9,226.0 C41.5,222.1 40.7,223.9 42.3,220.2 C43.9,216.5 43.2,218.2 44.8,214.8 C46.4,211.4 45.6,213.0 47.2,209.9 C48.8,206.8 48.1,208.3 49.7,205.5 C51.3,202.7 50.5,204.2 52.1,201.6 C53.7,199.0 53.0,200.1 54.6,197.7 C56.2,195.3 55.4,196.8 57.0,194.3 C58.6,191.8 57.9,192.6 59.5,190.3 C61.1,188.0 60.2,189.8 61.9,187.4 C63.6,185.0 62.9,185.2 64.7,183.0 C66.5,180.8 65.6,181.7 67.2,180.9 C68.8,180.1 68.0,180.6 69.6,180.5 C71.2,180.4 70.5,180.2 72.1,180.7 C73.7,181.2 72.9,180.9 74.5,182.0 C76.1,183.1 75.4,182.7 77.0,184.0 C78.6,185.3 77.8,184.6 79.4,185.9 C81.0,187.2 80.3,186.6 81.9,187.9 C83.5,189.2 82.7,188.6 84.3,189.9 C85.9,191.2 85.2,190.5 86.8,191.8 C88.4,193.1 87.6,192.8 89.2,193.8 C90.8,194.8 90.1,194.6 91.7,194.8 C93.3,195.0 92.5,195.0 94.1,194.3 C95.7,193.6 95.0,194.1 96.6,192.8 C98.2,191.5 97.4,192.2 99.0,190.4 C100.6,188.6 99.9,189.2 101.5,187.4 C103.1,185.6 102.3,186.3 103.9,185.0 C105.5,183.7 104.1,184.5 106.4,183.5 C108.7,182.5 107.8,182.9 110.9,181.9 C114.0,180.9 112.5,180.6 115.8,180.4 C119.1,180.2 117.4,180.9 120.7,181.4 C124.0,181.9 122.3,182.7 125.6,181.9 C128.9,181.1 127.2,180.9 130.5,178.9 C133.8,176.9 132.1,177.5 135.4,176.0 C138.7,174.5 137.0,174.6 140.3,174.3 C143.6,174.0 141.9,173.8 145.2,175.0 C148.5,176.2 146.8,176.4 150.1,177.9 C153.4,179.4 151.7,178.9 155.0,179.4 C158.3,179.9 156.6,179.3 159.9,179.3 C163.2,179.3 161.6,180.0 164.9,179.5 C168.2,179.0 166.5,178.8 169.8,177.8 C173.1,176.8 171.4,176.6 174.7,176.6 C178.0,176.6 176.3,176.3 179.6,177.8 C182.9,179.3 181.2,179.1 184.5,181.0 C187.8,182.9 186.1,182.0 189.4,183.5 C192.7,185.0 191.0,184.4 194.3,185.4 C197.6,186.4 195.9,186.2 199.2,186.4 C202.5,186.6 200.8,186.4 204.1,185.9 C207.4,185.4 205.7,185.6 209.0,184.9 C212.3,184.2 210.6,184.3 213.9,183.9 C217.2,183.5 215.6,184.0 218.9,183.8 C222.2,183.6 220.5,183.9 223.8,183.3 C227.1,182.7 225.4,183.5 228.7,181.9 C232.0,180.3 230.3,180.5 233.6,178.4 C236.9,176.3 235.2,177.5 238.5,175.5 C241.8,173.5 240.1,174.5 243.4,172.5 C246.7,170.5 245.0,171.1 248.3,169.6 C251.6,168.1 249.9,169.2 253.2,168.1 C256.5,167.0 254.8,168.0 258.1,166.2 C261.4,164.4 259.7,164.4 263.0,162.7 C266.3,161.0 265.0,161.5 267.9,161.0 C270.8,160.5 268.9,160.6 271.8,161.2 C274.7,161.8 273.4,161.6 276.7,162.7 C280.0,163.8 278.3,163.8 281.6,164.6 C284.9,165.4 283.2,164.1 286.5,165.1 C289.8,166.1 288.1,166.3 291.4,167.6 C294.7,168.9 293.0,168.6 296.3,169.0 C299.6,169.4 297.9,169.8 301.2,168.7 C304.5,167.6 302.8,168.3 306.1,165.6 C309.4,162.9 307.7,164.0 311.0,160.7 C314.3,157.4 312.6,158.7 315.9,155.8 C319.2,152.9 318.3,153.7 320.8,151.9 C323.3,150.1 321.4,150.3 323.5,150.3 C325.6,150.3 325.0,150.7 327.0,151.9 C329.0,153.1 327.0,152.7 329.4,153.9 C331.8,155.1 331.0,155.0 334.3,155.4 C337.6,155.8 335.9,155.3 339.2,155.2 C342.5,155.1 340.8,155.2 344.1,155.2 C347.4,155.2 345.7,155.3 349.0,155.2 C352.3,155.1 350.3,155.2 353.9,154.9 C357.5,154.6 356.2,155.4 359.8,154.2 C363.4,153.0 361.4,155.1 364.7,151.2 C368.0,147.3 366.3,148.9 369.6,142.4 C372.9,135.9 371.2,138.5 374.5,131.6 C377.8,124.7 376.5,127.9 379.4,121.8 C382.3,115.7 381.1,117.4 383.2,113.2 C385.3,109.0 383.2,112.6 385.6,109.3 C388.0,106.0 387.2,107.0 390.5,103.4 C393.8,99.8 392.1,101.5 395.4,98.5 C398.7,95.5 397.0,97.0 400.3,94.5 C403.6,92.0 401.9,93.2 405.2,91.1 C408.5,89.0 406.8,90.5 410.1,88.2 C413.4,85.9 411.7,86.9 415.0,84.3 C418.3,81.7 416.6,82.9 419.9,80.3 C423.2,77.7 421.9,78.6 424.8,76.4 C427.7,74.2 426.4,74.6 428.5,73.6 C430.6,72.6 429.4,73.0 431.0,73.5 C432.6,74.0 431.0,73.9 433.4,75.1 C435.8,76.3 435.0,76.0 438.3,77.1 C441.6,78.2 439.9,78.7 443.2,78.5 C446.5,78.3 445.5,76.6 448.1,76.6 C450.7,76.6 448.3,76.2 450.9,78.4 C453.5,80.6 452.5,80.0 455.8,83.3 C459.1,86.6 457.4,85.3 460.7,88.2 C464.0,91.1 462.3,89.5 465.6,92.1 C468.9,94.7 467.6,94.0 470.5,96.0 C473.4,98.0 472.1,98.3 474.4,98.0 C476.7,97.7 475.4,97.1 477.4,95.0 C479.4,92.9 478.4,93.5 480.3,91.6 C482.2,89.7 481.2,90.3 483.2,89.2 C485.2,88.1 483.9,88.1 486.2,88.2 C488.5,88.3 487.2,88.6 490.1,89.6 C493.0,90.6 491.4,90.2 495.0,91.1 C498.6,92.0 497.3,91.8 500.9,92.3 C504.5,92.8 502.5,92.2 505.8,92.7 C509.1,93.2 507.4,93.5 510.7,93.7 C514.0,93.9 512.3,92.9 515.6,93.2 C518.9,93.5 517.2,93.4 520.5,94.7 C523.8,96.0 522.1,96.2 525.4,97.2 C528.7,98.2 527.0,97.3 530.3,97.6 C533.6,97.9 531.9,97.1 535.2,98.1 C538.5,99.1 536.8,98.5 540.1,100.6 C543.4,102.7 541.7,101.4 545.0,104.5 C548.3,107.6 547.3,106.9 549.9,109.9 C552.5,112.9 551.2,112.0 552.8,113.6 C554.4,115.2 553.5,114.4 554.8,114.6 C556.1,114.8 555.4,114.9 556.8,114.3 C558.2,113.7 558.2,113.3 558.9,112.8" fill="none" stroke="#1e7d1e" stroke-width="1.25" stroke-linejoin="round"/>
<path d="M13.4,243.5 C14.9,243.1 15.4,242.3 17.8,242.2 C20.2,242.1 19.1,242.8 20.7,243.2 C22.3,243.6 20.4,243.8 22.7,243.5 C25.0,243.2 24.3,243.1 27.6,242.2 C30.9,241.3 29.2,241.6 32.5,240.9 C35.8,240.2 34.1,240.8 37.4,240.2 C40.7,239.6 39.0,240.2 42.3,239.2 C45.6,238.2 43.9,238.6 47.2,237.3 C50.5,236.0 48.8,236.8 52.1,235.3 C55.4,233.8 53.7,234.5 57.0,232.9 C60.3,231.3 58.6,232.0 61.9,230.4 C65.2,228.8 63.3,229.9 66.8,228.0 C70.3,226.1 69.2,226.5 72.3,224.6 C75.4,222.7 72.0,224.7 76.1,222.4 C80.2,220.1 78.8,220.7 84.5,217.8 C90.2,214.9 89.0,215.6 93.1,213.6 C97.2,211.6 93.9,213.2 96.8,211.7 C99.7,210.2 99.0,210.6 101.7,209.2 C104.4,207.8 102.6,208.8 105.0,207.6 C107.4,206.4 106.0,207.1 109.0,205.6 C112.0,204.1 111.0,204.7 114.0,203.0 C117.0,201.3 115.6,201.9 118.0,200.6 C120.4,199.3 118.6,200.6 121.3,199.0 C124.0,197.4 123.0,198.2 126.1,195.8 C129.2,193.4 127.4,194.4 130.5,191.7 C133.6,189.0 132.1,189.8 135.4,187.7 C138.7,185.6 137.0,186.6 140.3,185.3 C143.6,184.0 141.9,184.5 145.2,183.8 C148.5,183.1 146.8,183.6 150.1,183.1 C153.4,182.6 151.7,182.6 155.0,182.2 C158.3,181.8 156.6,182.1 159.9,181.8 C163.2,181.5 161.6,181.3 164.9,181.3 C168.2,181.3 166.5,181.5 169.8,181.7 C173.1,181.9 171.4,182.0 174.7,182.0 C178.0,182.0 176.3,181.9 179.6,181.7 C182.9,181.5 181.2,181.3 184.5,181.3 C187.8,181.3 186.1,181.8 189.4,181.7 C192.7,181.6 191.0,181.6 194.3,181.0 C197.6,180.4 195.9,180.3 199.2,180.0 C202.5,179.7 200.8,179.9 204.1,180.0 C207.4,180.1 205.7,179.9 209.0,180.3 C212.3,180.7 210.6,180.8 213.9,181.3 C217.2,181.8 215.6,182.0 218.9,181.9 C222.2,181.8 220.5,181.6 223.8,180.9 C227.1,180.2 225.4,180.5 228.7,179.9 C232.0,179.3 230.3,179.5 233.6,179.2 C236.9,178.9 235.2,178.6 238.5,178.9 C241.8,179.2 240.1,180.0 243.4,180.2 C246.7,180.4 245.0,179.8 248.3,179.4 C251.6,179.0 249.9,179.4 253.2,178.9 C256.5,178.4 254.8,178.6 258.1,177.9 C261.4,177.2 259.7,177.4 263.0,176.9 C266.3,176.4 265.0,176.6 267.9,176.3 C270.8,176.0 267.2,176.5 271.8,175.9 C276.4,175.3 275.1,175.4 281.6,174.6 C288.1,173.8 284.9,174.3 291.4,173.6 C297.9,172.9 296.3,173.5 301.2,172.5 C306.1,171.5 302.8,171.8 306.1,170.5 C309.4,169.2 307.7,169.8 311.0,168.7 C314.3,167.6 313.0,167.9 315.9,167.1 C318.8,166.3 316.2,167.0 319.6,166.4 C323.0,165.8 320.6,166.4 326.0,165.2 C331.4,164.0 329.3,164.3 335.8,162.8 C342.3,161.3 339.1,162.0 345.6,160.8 C352.1,159.6 348.9,160.3 355.4,159.3 C361.9,158.3 360.3,158.9 365.2,157.9 C370.1,156.9 366.8,157.9 370.1,156.4 C373.4,154.9 371.7,155.3 375.0,153.5 C378.3,151.7 376.6,152.7 379.9,151.0 C383.2,149.3 381.7,150.2 384.8,148.5 C387.9,146.8 385.2,148.6 389.2,145.8 C393.2,143.0 391.9,144.0 396.8,140.2 C401.7,136.4 399.8,137.9 403.9,134.5 C408.0,131.1 405.6,132.8 409.0,130.0 C412.4,127.2 409.9,129.3 414.0,126.2 C418.1,123.1 416.7,124.0 421.3,120.7 C425.9,117.4 423.7,119.0 427.8,116.2 C431.9,113.4 427.5,116.0 433.5,112.2 C439.5,108.4 439.6,108.3 445.8,104.8 C452.0,101.3 448.0,103.6 452.0,101.6 C456.0,99.6 454.3,100.5 457.9,98.7 C461.5,96.9 459.4,97.9 462.8,96.2 C466.2,94.5 465.4,95.0 468.0,93.6 C470.6,92.2 468.0,93.4 470.5,92.1 C473.0,90.8 472.1,91.1 475.4,89.6 C478.7,88.1 477.0,88.7 480.3,87.7 C483.6,86.7 481.9,87.1 485.2,86.7 C488.5,86.3 486.8,86.5 490.1,86.5 C493.4,86.5 490.0,86.6 495.0,86.7 C500.0,86.8 499.7,86.7 505.0,86.7 C510.3,86.7 507.9,86.6 511.0,86.7 C514.1,86.8 511.6,86.6 514.3,86.9 C517.0,87.2 515.9,87.1 519.2,87.6 C522.5,88.1 520.8,87.8 524.1,88.5 C527.4,89.2 525.7,88.9 529.0,89.6 C532.3,90.3 530.6,89.9 533.9,90.7 C537.2,91.5 535.4,90.9 538.8,92.0 C542.2,93.1 540.3,92.8 544.0,94.0 C547.7,95.2 546.3,94.6 549.9,95.7 C553.5,96.8 551.8,96.2 554.8,97.2 C557.8,98.2 557.5,98.1 558.9,98.6" fill="none" stroke="#ff2222" stroke-width="1.25" stroke-linejoin="round"/>
<path d="M13.4,248.5 C14.9,248.5 14.7,248.2 17.8,248.5 C20.9,248.8 19.4,249.2 22.7,249.5 C26.0,249.8 24.3,249.7 27.6,249.3 C30.9,248.9 29.2,248.9 32.5,248.4 C35.8,247.9 34.1,248.3 37.4,247.8 C40.7,247.3 39.0,247.4 42.3,246.8 C45.6,246.2 43.9,246.7 47.2,246.1 C50.5,245.5 48.8,245.8 52.1,245.1 C55.4,244.4 53.7,244.7 57.0,244.1 C60.3,243.5 58.6,243.8 61.9,243.2 C65.2,242.6 63.3,243.0 66.8,242.2 C70.3,241.4 66.4,242.1 72.3,240.7 C78.2,239.3 76.3,239.8 84.5,238.1 C92.7,236.4 88.6,237.6 96.8,235.7 C105.0,233.8 100.8,234.8 109.0,232.5 C117.2,230.2 113.1,231.0 121.3,228.8 C129.5,226.6 125.3,227.5 133.5,225.9 C141.7,224.3 137.6,225.1 145.8,223.9 C154.0,222.7 149.8,223.4 158.0,222.2 C166.2,221.0 162.1,221.7 170.3,220.2 C178.5,218.7 174.3,219.2 182.5,217.8 C190.7,216.4 186.6,217.5 194.8,216.1 C203.0,214.7 197.8,215.7 207.0,213.6 C216.2,211.5 213.1,212.3 222.3,209.8 C231.5,207.3 226.3,208.4 234.5,206.2 C242.7,204.0 238.6,205.3 246.8,203.2 C255.0,201.1 250.8,201.9 259.0,200.0 C267.2,198.1 263.1,199.2 271.3,197.6 C279.5,196.0 275.3,196.4 283.5,195.1 C291.7,193.8 289.6,194.6 295.8,193.6 C302.0,192.6 297.1,193.6 302.2,192.0 C307.3,190.4 304.8,190.8 311.0,188.8 C317.2,186.8 313.6,188.2 320.8,186.0 C328.0,183.8 324.5,184.4 332.5,182.1 C340.5,179.8 336.6,181.1 344.8,179.2 C353.0,177.3 347.8,178.8 357.0,176.3 C366.2,173.8 363.1,174.4 372.3,171.6 C381.5,168.8 376.3,170.3 384.5,168.0 C392.7,165.7 388.6,167.2 396.8,164.8 C405.0,162.4 400.8,163.5 409.0,160.7 C417.2,157.9 413.1,158.8 421.3,156.3 C429.5,153.8 425.3,155.8 433.5,153.3 C441.7,150.8 437.6,151.6 445.8,148.9 C454.0,146.2 449.8,147.2 458.0,145.2 C466.2,143.2 462.1,144.8 470.3,142.8 C478.5,140.8 474.3,141.1 482.5,139.1 C490.7,137.1 486.6,138.3 494.8,136.7 C503.0,135.1 498.6,136.3 507.0,134.2 C515.4,132.1 512.4,132.5 520.0,130.4 C527.6,128.3 523.3,129.6 529.8,128.0 C536.3,126.4 533.1,127.1 539.6,125.6 C546.1,124.1 543.0,124.8 549.4,123.4 C555.8,122.0 555.7,122.1 558.9,121.4" fill="none" stroke="#2222ff" stroke-width="1.25" stroke-linejoin="round"/>
<text x="62.3" y="163.4" font-size="11.8" text-anchor="middle" textLength="29.6" lengthAdjust="spacingAndGlyphs">3270</text>
<text x="62.3" y="151.3" font-size="11.8" text-anchor="middle" textLength="27.6" lengthAdjust="spacingAndGlyphs">4/22</text>
<text x="88.6" y="209.1" font-size="11.8" text-anchor="middle" textLength="29.6" lengthAdjust="spacingAndGlyphs">3070</text>
<text x="88.6" y="221.1" font-size="11.8" text-anchor="middle" textLength="20.2" lengthAdjust="spacingAndGlyphs">5/1</text>
<text x="132.4" y="151.1" font-size="11.8" text-anchor="middle" textLength="29.6" lengthAdjust="spacingAndGlyphs">3340</text>
<text x="132.4" y="139.2" font-size="11.8" text-anchor="middle" textLength="27.6" lengthAdjust="spacingAndGlyphs">5/19</text>
<text x="195.3" y="201.9" font-size="11.8" text-anchor="middle" textLength="29.6" lengthAdjust="spacingAndGlyphs">3115</text>
<text x="195.3" y="213.7" font-size="11.8" text-anchor="middle" textLength="20.2" lengthAdjust="spacingAndGlyphs">6/6</text>
<text x="266.3" y="147.1" font-size="11.8" text-anchor="middle" textLength="29.6" lengthAdjust="spacingAndGlyphs">3365</text>
<text x="266.3" y="135.0" font-size="11.8" text-anchor="middle" textLength="27.6" lengthAdjust="spacingAndGlyphs">6/30</text>
<text x="279.3" y="187.3" font-size="11.8" text-anchor="middle" textLength="29.6" lengthAdjust="spacingAndGlyphs">3205</text>
<text x="279.3" y="199.0" font-size="11.8" text-anchor="middle" textLength="20.2" lengthAdjust="spacingAndGlyphs">7/3</text>
<text x="314.3" y="132.2" font-size="11.8" text-anchor="middle" textLength="29.6" lengthAdjust="spacingAndGlyphs">3460</text>
<text x="314.3" y="120.1" font-size="11.8" text-anchor="middle" textLength="27.6" lengthAdjust="spacingAndGlyphs">7/15</text>
<text x="350.7" y="174.2" font-size="11.8" text-anchor="middle" textLength="29.6" lengthAdjust="spacingAndGlyphs">3285</text>
<text x="350.7" y="185.8" font-size="11.8" text-anchor="middle" textLength="27.6" lengthAdjust="spacingAndGlyphs">7/28</text>
<text x="421.8" y="58.9" font-size="11.8" text-anchor="middle" textLength="29.6" lengthAdjust="spacingAndGlyphs">3900</text>
<text x="421.8" y="46.7" font-size="11.8" text-anchor="middle" textLength="27.6" lengthAdjust="spacingAndGlyphs">8/20</text>
<text x="461.2" y="120.2" font-size="11.8" text-anchor="middle" textLength="29.6" lengthAdjust="spacingAndGlyphs">3610</text>
<text x="461.2" y="132.3" font-size="11.8" text-anchor="middle" textLength="20.2" lengthAdjust="spacingAndGlyphs">9/2</text>
<text x="484.1" y="76.6" font-size="11.8" text-anchor="middle" textLength="29.6" lengthAdjust="spacingAndGlyphs">3795</text>
<text x="484.1" y="64.7" font-size="11.8" text-anchor="middle" textLength="20.2" lengthAdjust="spacingAndGlyphs">9/9</text>
<text x="545.7" y="136.4" font-size="11.8" text-anchor="middle" textLength="29.6" lengthAdjust="spacingAndGlyphs">3510</text>
<text x="545.7" y="148.2" font-size="11.8" text-anchor="middle" textLength="27.6" lengthAdjust="spacingAndGlyphs">10/1</text>
<line class="k" x1="10" x2="641" y1="10.5" y2="10.5"/>
<line class="k" x1="10" x2="641" y1="459.5" y2="459.5"/>
<line class="k" x1="10" x2="641" y1="29.5" y2="29.5"/>
<line class="k" x1="10" x2="641" y1="312.5" y2="312.5"/>
<line class="k" x1="10" x2="641" y1="325.5" y2="325.5"/>
<line class="k" x1="10" x2="641" y1="397.5" y2="397.5"/>
<line class="k" x1="10" x2="641" y1="410.5" y2="410.5"/>
<line class="k" x1="10.5" x2="10.5" y1="10" y2="460"/>
<line class="k" x1="640.5" x2="640.5" y1="10" y2="460"/>
<line class="k" x1="579.5" x2="579.5" y1="29" y2="313"/>
<line class="k" x1="579.5" x2="579.5" y1="325" y2="398"/>
<text x="582" y="50.1" font-size="11.8" textLength="29.6" lengthAdjust="spacingAndGlyphs">4000</text>
<text x="582" y="83.1" font-size="11.8" textLength="29.6" lengthAdjust="spacingAndGlyphs">3800</text>
<text x="582" y="116.1" font-size="11.8" textLength="29.6" lengthAdjust="spacingAndGlyphs">3600</text>
<text x="582" y="149.1" font-size="11.8" textLength="29.6" lengthAdjust="spacingAndGlyphs">3400</text>
<text x="582" y="182.1" font-size="11.8" textLength="29.6" lengthAdjust="spacingAndGlyphs">3200</text>
<text x="582" y="214.1" font-size="11.8" textLength="29.6" lengthAdjust="spacingAndGlyphs">3000</text>
<text x="582" y="247.1" font-size="11.8" textLength="29.6" lengthAdjust="spacingAndGlyphs">2800</text>
<text x="582" y="280.1" font-size="11.8" textLength="29.6" lengthAdjust="spacingAndGlyphs">2600</text>
<text x="582.3" y="339.9" font-size="11.8" textLength="14.6" lengthAdjust="spacingAndGlyphs">80</text>
<text x="582.3" y="353.9" font-size="11.8" textLength="14.6" lengthAdjust="spacingAndGlyphs">60</text>
<text x="582.3" y="368.9" font-size="11.8" textLength="14.6" lengthAdjust="spacingAndGlyphs">40</text>
<text x="582.3" y="382.9" font-size="11.8" textLength="14.6" lengthAdjust="spacingAndGlyphs">20</text>
<text class="j" x="609" y="394.6" font-size="10" textLength="28.5" lengthAdjust="spacingAndGlyphs">(万株)</text>
<text x="88.0" y="321.2" font-size="9">5</text>
<text x="88.0" y="406.2" font-size="9">5</text>
<text x="177.0" y="321.2" font-size="9">6</text>
<text x="177.0" y="406.2" font-size="9">6</text>
<text x="270.0" y="321.2" font-size="9">7</text>
<text x="270.0" y="406.2" font-size="9">7</text>
<text x="368.0" y="321.2" font-size="9">8</text>
<text x="368.0" y="406.2" font-size="9">8</text>
<text x="457.0" y="321.2" font-size="9">9</text>
<text x="457.0" y="406.2" font-size="9">9</text>
<text x="545.0" y="321.2" font-size="9">10</text>
<text x="545.0" y="406.2" font-size="9">10</text>
<text x="12.4" y="25.0" class="j" font-size="12" textLength="23.6" lengthAdjust="spacingAndGlyphs">日付</text>
<text x="41.5" y="24.2" font-size="13.5" textLength="126.3" lengthAdjust="spacingAndGlyphs">2025/10/06 15:24</text>
<text x="172.8" y="25.0" class="j" font-size="12" textLength="23.8" lengthAdjust="spacingAndGlyphs">始値</text>
<text x="200.6" y="24.2" class="b" font-size="13.5" textLength="42.6" lengthAdjust="spacingAndGlyphs">3,650</text>
<text x="265.2" y="25.0" class="j" font-size="12" textLength="23.8" lengthAdjust="spacingAndGlyphs">高値</text>
<text x="292.8" y="24.2" class="b" style="fill:#ff1010" font-size="13.5" textLength="42.0" lengthAdjust="spacingAndGlyphs">3,725</text>
<text x="357.5" y="25.0" class="j" font-size="12" textLength="23.2" lengthAdjust="spacingAndGlyphs">安値</text>
<text x="384.6" y="24.2" class="b" style="fill:#0a6a0a" font-size="13.5" textLength="43.0" lengthAdjust="spacingAndGlyphs">3,575</text>
<text x="448.8" y="25.0" class="j" font-size="12" textLength="23.8" lengthAdjust="spacingAndGlyphs">終値</text>
<text x="476.7" y="24.2" class="b" font-size="13.5" textLength="42.4" lengthAdjust="spacingAndGlyphs">3,670</text>
<rect x="10.5" y="269.5" width="108" height="43" fill="#eeeeee" fill-opacity="0.85" stroke="#999" stroke-width="1"/>
<text x="11.2" y="279.7" font-size="11.8" style="fill:#2e8b57">MA(5)</text>
<text x="117.5" y="279.7" font-size="11.8" style="fill:#2e8b57" text-anchor="end" textLength="52" lengthAdjust="spacingAndGlyphs">3,589.00</text>
<text x="11.2" y="293.8" font-size="11.8" style="fill:#ff2a2a">MA(25)</text>
<text x="117.5" y="293.8" font-size="11.8" style="fill:#ff2a2a" text-anchor="end" textLength="52" lengthAdjust="spacingAndGlyphs">3,681.00</text>
<text x="11.2" y="308.1" font-size="11.8" style="fill:#3333ff">MA(75)</text>
<text x="117.5" y="308.1" font-size="11.8" style="fill:#3333ff" text-anchor="end" textLength="52" lengthAdjust="spacingAndGlyphs">3,542.40</text>
<rect x="10.5" y="325.5" width="108" height="14" fill="#eeeeee" fill-opacity="0.9" stroke="#999" stroke-width="1"/>
<text class="j" x="10.8" y="335.9" font-size="12" style="fill:#3333bb" textLength="34.5" lengthAdjust="spacingAndGlyphs">出来高</text>
<text class="j" x="118" y="335.7" font-size="11.8" style="fill:#3333bb" text-anchor="end"><tspan font-family="DejaVu Sans">293,500</tspan>株</text>
<path d="M11.0,437.1 L13.7,438.8 L16.8,439.3 L19.8,439.6 L22.9,439.6 L25.9,439.5 L28.9,439.2 L32.0,439.6 L34.5,438.6 L37.9,438.5 L41.4,438.2 L44.8,438.2 L48.3,438.5 L51.7,438.6 L55.3,437.3 L59.0,437.1 L62.6,437.6 L66.3,437.9 L70.0,437.6 L73.7,437.5 L77.3,438.0 L81.0,437.6 L86.0,436.9 L89.4,436.7 L92.8,436.6 L96.1,436.6 L99.5,436.9 L101.9,435.2 L104.4,436.6 L108.0,435.6 L111.7,435.6 L115.3,435.3 L119.0,435.3 L122.7,435.2 L125.2,434.2 L127.6,435.6 L131.3,435.5 L135.0,435.1 L138.7,434.8 L142.4,434.7 L147.3,433.9 L150.6,433.8 L153.8,434.4 L157.1,434.2 L161.1,433.4 L165.0,433.0 L168.8,432.4 L172.7,432.0 L176.5,431.0 L180.3,430.0 L184.1,429.4 L187.9,429.6 L191.8,430.4 L195.9,431.7 L200.0,432.5 L203.8,432.8 L207.7,433.1 L211.5,432.2 L215.3,431.0 L218.4,431.2 L221.4,431.6 L224.5,431.2 L227.5,431.7 L230.6,431.6 L234.1,431.7 L237.5,431.6 L240.9,431.9 L244.4,431.6 L245.9,430.1 L249.0,430.1 L252.1,429.4 L255.1,429.9 L258.2,429.7 L261.3,429.4 L264.4,430.4 L267.4,430.7 L270.5,431.5 L273.5,432.5 L276.6,433.1 L279.7,432.8 L282.7,432.3 L285.8,432.0 L288.8,431.7 L291.9,431.9 L295.7,430.8 L299.5,430.4 L303.4,430.6 L307.2,431.0 L310.3,430.3 L313.3,430.3 L316.4,430.1 L319.4,430.1 L322.5,429.4 L325.6,429.5 L328.6,428.8 L331.7,428.8 L335.1,429.2 L338.6,430.2 L342.1,430.9 L345.5,431.0 L349.3,431.5 L353.1,432.5 L356.2,432.6 L359.3,433.1 L362.4,432.8 L365.4,432.1 L368.5,431.9 L371.6,431.9 L374.6,432.0 L377.7,432.3 L380.7,432.8 L383.8,432.5 L387.0,432.4 L390.3,432.4 L393.5,432.3 L396.8,431.6 L400.0,431.9 L403.4,432.1 L406.9,432.0 L410.3,431.9 L413.7,431.4 L417.2,431.3 L420.6,431.3 L423.7,431.4 L426.8,430.9 L429.8,430.9 L432.9,431.3 L435.9,433.1 L438.9,432.7 L442.0,432.5 L446.7,429.4 L451.3,431.0 L454.3,430.9 L457.4,431.5 L460.4,431.9 L463.5,431.7 L466.5,431.0 L469.6,430.4 L472.8,430.1 L476.1,430.2 L479.3,430.1 L482.5,430.2 L482.5,448.0 L11.0,448.0Z" fill="#eee"/>
<path d="M11.0,437.1 L13.7,438.8 L16.8,439.3 L19.8,439.6 L22.9,439.6 L25.9,439.5 L28.9,439.2 L32.0,439.6 L34.5,438.6 L37.9,438.5 L41.4,438.2 L44.8,438.2 L48.3,438.5 L51.7,438.6 L55.3,437.3 L59.0,437.1 L62.6,437.6 L66.3,437.9 L70.0,437.6 L73.7,437.5 L77.3,438.0 L81.0,437.6 L86.0,436.9 L89.4,436.7 L92.8,436.6 L96.1,436.6 L99.5,436.9 L101.9,435.2 L104.4,436.6 L108.0,435.6 L111.7,435.6 L115.3,435.3 L119.0,435.3 L122.7,435.2 L125.2,434.2 L127.6,435.6 L131.3,435.5 L135.0,435.1 L138.7,434.8 L142.4,434.7 L147.3,433.9 L150.6,433.8 L153.8,434.4 L157.1,434.2 L161.1,433.4 L165.0,433.0 L168.8,432.4 L172.7,432.0 L176.5,431.0 L180.3,430.0 L184.1,429.4 L187.9,429.6 L191.8,430.4 L195.9,431.7 L200.0,432.5 L203.8,432.8 L207.7,433.1 L211.5,432.2 L215.3,431.0 L218.4,431.2 L221.4,431.6 L224.5,431.2 L227.5,431.7 L230.6,431.6 L234.1,431.7 L237.5,431.6 L240.9,431.9 L244.4,431.6 L245.9,430.1 L249.0,430.1 L252.1,429.4 L255.1,429.9 L258.2,429.7 L261.3,429.4 L264.4,430.4 L267.4,430.7 L270.5,431.5 L273.5,432.5 L276.6,433.1 L279.7,432.8 L282.7,432.3 L285.8,432.0 L288.8,431.7 L291.9,431.9 L295.7,430.8 L299.5,430.4 L303.4,430.6 L307.2,431.0 L310.3,430.3 L313.3,430.3 L316.4,430.1 L319.4,430.1 L322.5,429.4 L325.6,429.5 L328.6,428.8 L331.7,428.8 L335.1,429.2 L338.6,430.2 L342.1,430.9 L345.5,431.0 L349.3,431.5 L353.1,432.5 L356.2,432.6 L359.3,433.1 L362.4,432.8 L365.4,432.1 L368.5,431.9 L371.6,431.9 L374.6,432.0 L377.7,432.3 L380.7,432.8 L383.8,432.5 L387.0,432.4 L390.3,432.4 L393.5,432.3 L396.8,431.6 L400.0,431.9 L403.4,432.1 L406.9,432.0 L410.3,431.9 L413.7,431.4 L417.2,431.3 L420.6,431.3 L423.7,431.4 L426.8,430.9 L429.8,430.9 L432.9,431.3 L435.9,433.1 L438.9,432.7 L442.0,432.5 L446.7,429.4 L451.3,431.0 L454.3,430.9 L457.4,431.5 L460.4,431.9 L463.5,431.7 L466.5,431.0 L469.6,430.4 L472.8,430.1 L476.1,430.2 L479.3,430.1 L482.5,430.2" fill="none" stroke="#999" stroke-width="1.2"/>
<path d="M482.5,430.2 L486.0,428.5 L489.9,427.8 L492.2,428.8 L495.0,429.5 L497.7,428.1 L499.8,429.1 L502.5,427.8 L505.3,429.0 L508.1,427.8 L510.8,428.8 L519.1,428.8 L521.8,427.6 L530.1,427.4 L534.2,426.5 L537.7,427.2 L541.1,427.2 L545.3,424.7 L549.4,423.3 L553.5,422.6 L555.6,423.3 L557.7,422.6 L560.4,424.4 L565.9,424.1 L568.7,424.4 L571.4,424.1 L579.5,424.2 L579.5,448.0 L482.5,448.0Z" fill="#bfc9f9"/>
<path d="M482.5,430.2 L486.0,428.5 L489.9,427.8 L492.2,428.8 L495.0,429.5 L497.7,428.1 L499.8,429.1 L502.5,427.8 L505.3,429.0 L508.1,427.8 L510.8,428.8 L519.1,428.8 L521.8,427.6 L530.1,427.4 L534.2,426.5 L537.7,427.2 L541.1,427.2 L545.3,424.7 L549.4,423.3 L553.5,422.6 L555.6,423.3 L557.7,422.6 L560.4,424.4 L565.9,424.1 L568.7,424.4 L571.4,424.1 L579.5,424.2" fill="none" stroke="#6868bb" stroke-width="1.2"/>
<text x="56.8" y="443.4" font-size="9">23</text>
<text x="246.8" y="443.4" font-size="9">24</text>
<text x="435.8" y="443.4" font-size="9">25</text>
<line x1="482.5" x2="482.5" y1="411" y2="448" stroke="#1aa0dd" stroke-width="1"/>
<line x1="579.5" x2="579.5" y1="411" y2="448" stroke="#1aa0dd" stroke-width="1"/>
<defs>
<linearGradient id="hg" x1="0" x2="1" y1="0" y2="0"><stop offset="0" stop-color="#fff"/><stop offset="1" stop-color="#8a8a8a"/></linearGradient>
<linearGradient id="tg" x1="0" x2="0" y1="0" y2="1"><stop offset="0" stop-color="#3c3c3c"/><stop offset="1" stop-color="#d4d4d4"/></linearGradient>
<linearGradient id="th" x1="0" x2="0" y1="0" y2="1"><stop offset="0" stop-color="#ffffff"/><stop offset="1" stop-color="#c0c0c0"/></linearGradient>
</defs>
<rect x="11" y="449" width="568" height="10" fill="url(#tg)"/>
<rect x="490.5" y="448.5" width="81" height="11" fill="url(#th)" stroke="#000" stroke-width="1"/>
<line class="k" x1="10" x2="580" y1="448.5" y2="448.5"/>
<line class="k" x1="579.5" x2="579.5" y1="448" y2="460"/>
<rect x="476.5" y="415.5" width="13" height="29" fill="url(#hg)" stroke="#000" stroke-width="1"/>
<rect x="572.5" y="415.5" width="13" height="29" fill="url(#hg)" stroke="#000" stroke-width="1"/>
<path d="M480.6,429 L485.2,425.2 L485.2,432.8 Z" fill="#000"/>
<path d="M581.4,429 L576.8,425.2 L576.8,432.8 Z" fill="#000"/>
</svg></body></html>
